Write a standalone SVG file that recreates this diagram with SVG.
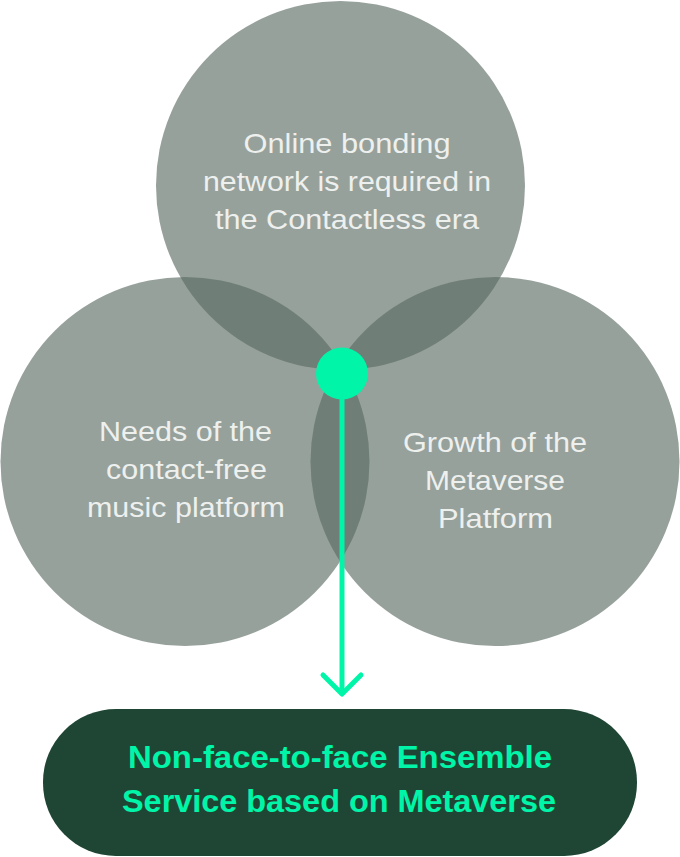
<svg xmlns="http://www.w3.org/2000/svg" width="680" height="857" viewBox="0 0 680 857">
  <style>
    .circle { fill: #586a60; fill-opacity: 0.63; }
    .label { font-family: "Liberation Sans", Arial, sans-serif; font-size: 27.5px; fill: #eef0ee; text-anchor: middle; }
    .result { font-family: "Liberation Sans", Arial, sans-serif; font-size: 32px; font-weight: bold; fill: #00f5a8; text-anchor: middle; }
    .conn { stroke: #00f5a8; stroke-width: 5; fill: none; stroke-linecap: round; stroke-linejoin: round; }
  </style>
  <rect width="680" height="857" fill="#ffffff"/>
  <g id="node-top">
    <circle class="circle" cx="340.5" cy="185.5" r="184.5"/>
    <text class="label" x="347" y="153" textLength="207" lengthAdjust="spacingAndGlyphs">Online bonding</text>
    <text class="label" x="347" y="191" textLength="288" lengthAdjust="spacingAndGlyphs">network is required in</text>
    <text class="label" x="347" y="229" textLength="264" lengthAdjust="spacingAndGlyphs">the Contactless era</text>
  </g>
  <g id="node-left">
    <circle class="circle" cx="185" cy="461.5" r="184.5"/>
    <text class="label" x="185.5" y="441" textLength="173" lengthAdjust="spacingAndGlyphs">Needs of the</text>
    <text class="label" x="186.5" y="479" textLength="161" lengthAdjust="spacingAndGlyphs">contact-free</text>
    <text class="label" x="186" y="517" textLength="198" lengthAdjust="spacingAndGlyphs">music platform</text>
  </g>
  <g id="node-right">
    <circle class="circle" cx="495" cy="461.5" r="184.5"/>
    <text class="label" x="495" y="452" textLength="184" lengthAdjust="spacingAndGlyphs">Growth of the</text>
    <text class="label" x="495" y="490" textLength="140" lengthAdjust="spacingAndGlyphs">Metaverse</text>
    <text class="label" x="495.5" y="528" textLength="115" lengthAdjust="spacingAndGlyphs">Platform</text>
  </g>
  <g id="connectors">
    <line class="conn" x1="342" y1="373" x2="342" y2="693"/>
    <path class="conn" d="M323,675 L342,694 L361,675"/>
  </g>
  <g id="node-center">
    <circle cx="342" cy="373.5" r="26" fill="#00f5a8"/>
  </g>
  <g id="node-result">
    <rect x="43" y="709" width="594" height="147" rx="73" ry="73" fill="#1f4634"/>
    <text class="result" x="340" y="768" textLength="424" lengthAdjust="spacingAndGlyphs">Non-face-to-face Ensemble</text>
    <text class="result" x="339" y="812" textLength="434" lengthAdjust="spacingAndGlyphs">Service based on Metaverse</text>
  </g>
</svg>
